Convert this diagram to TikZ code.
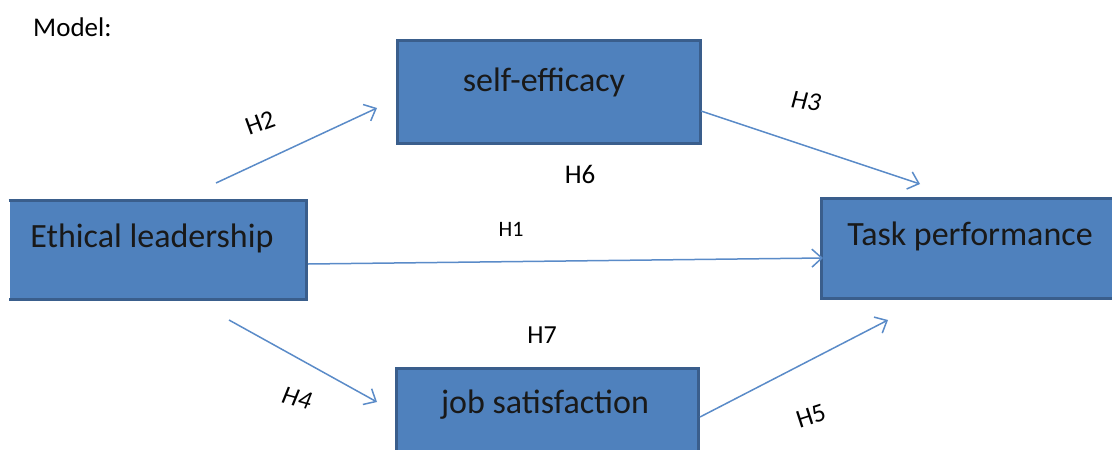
\documentclass[tikz,border=0pt]{standalone}
\usepackage{fontspec}
\setmainfont{Carlito}
\usetikzlibrary{arrows.meta}
\definecolor{boxfill}{HTML}{4F81BD}
\definecolor{boxedge}{HTML}{3A5E8C}
\definecolor{linkcol}{HTML}{5A8BC8}
\begin{document}
\begin{tikzpicture}[x=1pt,y=-1pt,
  varbox/.style={fill=boxfill, draw=boxedge, line width=3pt, inner sep=0pt},
  vartext/.style={anchor=base, font=\fontsize{34}{36}\selectfont, text=black!90, inner sep=0pt},
  link/.style={draw=linkcol, line width=1.5pt,
    -{Straight Barb[length=10pt, width=18pt, line width=1.5pt]}},
  hyp/.style={font=\fontsize{26}{28}\selectfont, inner sep=0pt}]
\useasboundingbox (0,0) rectangle (1112,450);

% caption
\node[anchor=base west, font=\fontsize{27}{30}\selectfont, inner sep=0pt] (cap) at (33,36) {Model:};

% variable boxes
\node[varbox, minimum width=295pt, minimum height=96pt, draw=none] (el) at (157.5,250) {};
\draw[boxedge, line width=3pt] (el.north west) -- (el.north east) -- (el.south east) -- (el.south west);
\node[varbox, minimum width=303pt, minimum height=103pt] (se) at (548.5,91.5) {};
\node[varbox, minimum width=294pt, minimum height=100pt] (tp) at (968,248) {};
\node[varbox, minimum width=302pt, minimum height=92pt] (js) at (547,414) {};

% box captions
\node[vartext] (elt) at (152,247) {Ethical leadership};
\node[vartext] (set) at (544,91) {self-efficacy};
\node[vartext] (tpt) at (970,245) {Task performance};
\node[vartext] (jst) at (545,413) {job satisfaction};

% connector end points
\coordinate (h2a) at (216,183);  \coordinate (h2b) at (377,108);
\coordinate (h3a) at (701,111);  \coordinate (h3b) at (920,184);
\coordinate (h1a) at (308,264);  \coordinate (h1b) at (823,258);
\coordinate (h4a) at (229,320);  \coordinate (h4b) at (377,402);
\coordinate (h5a) at (700,417);  \coordinate (h5b) at (888,320);

\draw[link] (h2a) -- (h2b);
\draw[link] (h3a) -- (h3b);
\draw[link] (h1a) -- (h1b);
\draw[link] (h4a) -- (h4b);
\draw[link] (h5a) -- (h5b);

% hypothesis labels
\node[hyp, rotate=20] (l2) at (260,123) {H2};
\node[hyp, font=\fontsize{26}{28}\selectfont\itshape, rotate=-8] (l3) at (806,101) {H3};
\node[hyp, font=\fontsize{22}{24}\selectfont] (l1) at (511,229) {H1};
\node[hyp, font=\fontsize{27}{28}\selectfont] (l6) at (580,174) {H6};
\node[hyp, font=\fontsize{26}{28}\selectfont] (l7) at (542,335) {H7};
\node[hyp, font=\fontsize{26}{28}\selectfont\itshape, rotate=-15] (l4) at (297,398) {H4};
\node[hyp, rotate=18] (l5) at (811,416) {H5};
\end{tikzpicture}
\end{document}
